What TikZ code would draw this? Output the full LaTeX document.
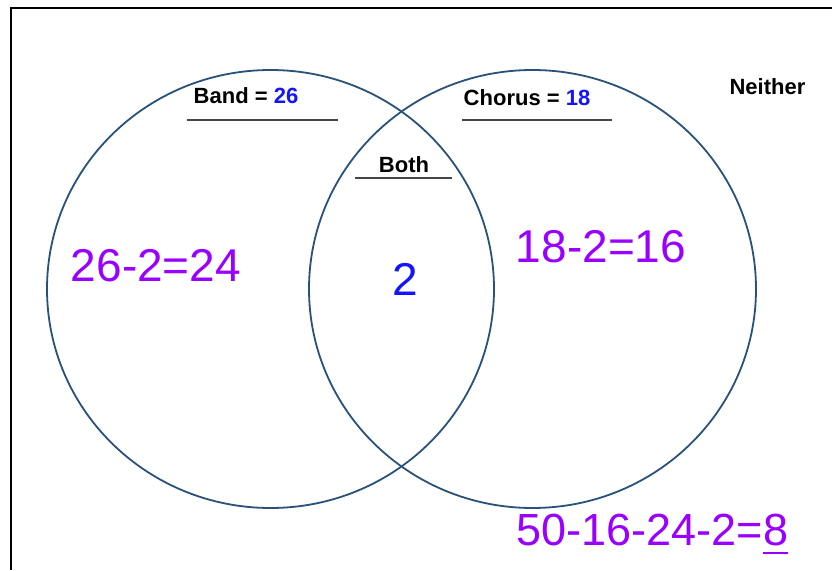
\documentclass[tikz,border=0pt]{standalone}
\usepackage{fontspec}
\setmainfont{Liberation Sans}
\usetikzlibrary{shapes.geometric}
\definecolor{circ}{RGB}{40,82,122}
\definecolor{purp}{RGB}{153,0,255}
\definecolor{blu}{RGB}{20,20,255}
\definecolor{rulegray}{RGB}{70,70,70}
\tikzset{
  vcircle/.style={ellipse, draw=circ, line width=1.8pt, minimum width=447pt, minimum height=438pt, inner sep=0pt},
  lbl/.style={inner sep=0pt, font=\fontsize{22}{24}\selectfont\bfseries, text=black},
  big/.style={inner sep=0pt, font=\fontsize{46}{50}\selectfont, text=purp},
  uline/.style={draw=rulegray, line width=1.3pt},
}
\begin{document}
\begin{tikzpicture}[x=1pt,y=-1pt]
\useasboundingbox (0,0) rectangle (832,570);
\fill[white] (0,0) rectangle (832,570);
% frame (cropped)
\draw[line width=2pt, black] (11,570) -- (11,8) -- (832,8);
% circles
\node[vcircle] (band) at (270.5,289) {};
\node[vcircle] (chorus) at (532.5,289) {};
% labels
\node[lbl] (bandlbl) at (246,96) {Band = \textcolor{blu}{26}};
\draw[uline] (187,120) -- (338,120);
\node[lbl] (choruslbl) at (527,97.5) {Chorus = \textcolor{blu}{18}};
\draw[uline] (462,120) -- (612,120);
\node[lbl] (bothlbl) at (404,164.5) {Both};
\draw[uline] (355,178) -- (452,178);
\node[lbl] (neither) at (767.5,86.5) {Neither};
% numbers
\node[big] (bandonly) at (156,266) {26-2=24};
\node[big] (choronly) at (601,246.5) {18-2=16};
\node[big, text=blu] (both) at (405,279) {2};
\node[big, font=\fontsize{45}{48}\selectfont, anchor=base east] (calc) at (763,545) {50-16-24-2=};
\node[big, font=\fontsize{45}{48}\selectfont, anchor=base west] (eight) at (calc.base east) {8};
\draw[purp, line width=2pt] ([yshift=-8pt]eight.base west) -- ([yshift=-8pt]eight.base east);
\end{tikzpicture}
\end{document}
